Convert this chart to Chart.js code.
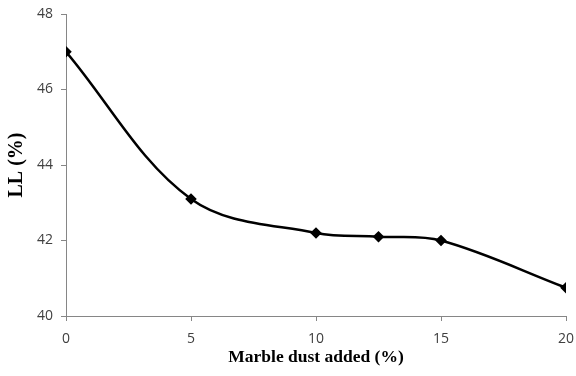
<!DOCTYPE html>
<html>
<head>
<meta charset="utf-8">
<script src="https://cdn.jsdelivr.net/npm/chart.js@4"></script>
<style>
  html, body { margin: 0; padding: 0; background: #fff; }
  #wrap { width: 576px; height: 376px; }
</style>
</head>
<body>
<div id="wrap"><canvas id="chart" width="576" height="376"></canvas></div>
<script>
"use strict";

// values
var dustAdded = [0, 5, 10, 12.5, 15, 20];
var liquidLimit = [47.0, 43.1, 42.2, 42.1, 42.0, 40.75];
var xTicks = [0, 5, 10, 15, 20];
var yTicks = [40, 42, 44, 46, 48];

var points = [];
for (var i = 0; i < dustAdded.length; i++) {
  points.push({ x: dustAdded[i], y: liquidLimit[i] });
}

var axisGray = "#868686";
var tickFont = { family: "'Open Sans', 'DejaVu Sans', sans-serif", size: 14 };
var xTitleFont = { family: "'Liberation Serif', 'DejaVu Serif', serif", size: 17.5, weight: "bold" };
var yTitleFont = { family: "'Liberation Serif', 'DejaVu Serif', serif", size: 20, weight: "bold" };

var ctx = document.getElementById("chart").getContext("2d");
new Chart(ctx, {
  type: "line",
  data: {
    datasets: [
      {
        label: "LL",
        data: points,
        borderColor: "#000",
        backgroundColor: "#000",
        borderWidth: 2.5,
        tension: 0.35,
        fill: false,
        pointStyle: "rectRot",
        pointRadius: 4,
        pointHoverRadius: 4,
      },
    ],
  },
  options: {
    responsive: false,
    animation: false,
    layout: { padding: { top: 14, right: 10, left: 0, bottom: 0 } },
    plugins: { legend: { display: false }, tooltip: { enabled: false } },
    scales: {
      x: {
        type: "linear",
        min: 0,
        max: 20,
        afterBuildTicks: function (axis) {
          axis.ticks = xTicks.map(function (v) { return { value: v }; });
        },
        afterFit: function (axis) {
          axis.height = 60;
          axis.paddingLeft = 0;
          axis.paddingRight = 0;
        },
        border: { color: axisGray, width: 1 },
        grid: { drawOnChartArea: false, color: axisGray, tickLength: 5 },
        ticks: { color: "#404040", font: tickFont, padding: 10, maxRotation: 0 },
        title: { display: true, text: "Marble dust added (%)", color: "#000", font: xTitleFont, padding: { top: 0, bottom: 8 } },
      },
      y: {
        type: "linear",
        min: 40,
        max: 48,
        afterBuildTicks: function (axis) {
          axis.ticks = yTicks.map(function (v) { return { value: v }; });
        },
        afterFit: function (axis) {
          axis.width = 66;
          axis.paddingTop = 0;
          axis.paddingBottom = 0;
        },
        border: { color: axisGray, width: 1 },
        grid: { drawOnChartArea: false, color: axisGray, tickLength: 5 },
        ticks: { color: "#404040", font: tickFont, padding: 8 },
        title: { display: true, text: "LL (%)", color: "#000", font: yTitleFont, padding: { top: 5, bottom: 0 } },
      },
    },
  },
});
</script>
</body>
</html>
